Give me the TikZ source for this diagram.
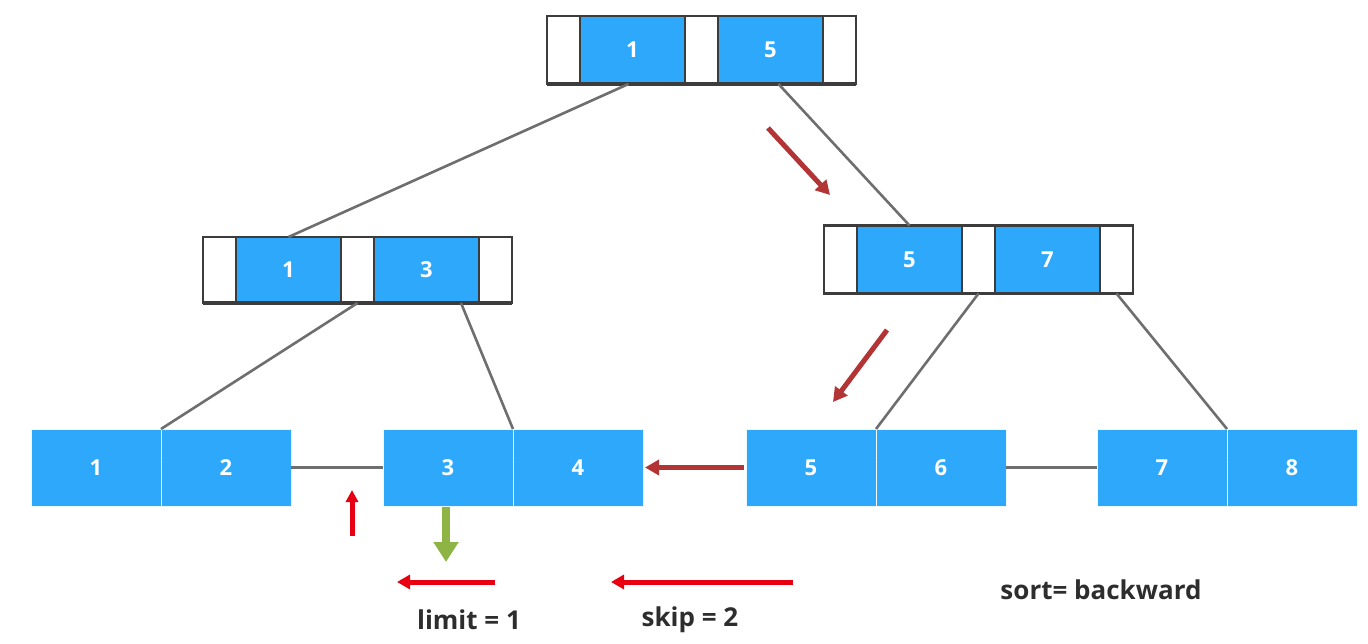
\documentclass[tikz,border=0pt]{standalone}
\usepackage{fontspec}
\setmainfont{Open Sans}
\usetikzlibrary{arrows.meta,calc}
\definecolor{keyblue}{RGB}{45,168,250}
\definecolor{frame}{RGB}{60,60,60}
\definecolor{edgegray}{RGB}{110,110,110}
\definecolor{walkred}{RGB}{178,52,52}
\definecolor{brightred}{RGB}{232,0,18}
\definecolor{pickgreen}{RGB}{141,180,68}
\definecolor{labelgray}{RGB}{45,45,45}
\tikzset{
  cellbase/.style={inner sep=0pt, outer sep=0pt, anchor=west, minimum height=68pt},
  ptrcell/.style={cellbase, draw=frame, line width=2.2pt, fill=white, minimum width=33pt},
  keycell/.style={cellbase, draw=frame, line width=2.2pt, fill=keyblue, minimum width=105pt,
    text=white, font=\bfseries\fontsize{22}{22}\selectfont},
  leafcell/.style={inner sep=0pt, outer sep=0pt, anchor=west, minimum width=130pt, minimum height=77pt,
    draw=cyan!8, line width=0.8pt, fill=keyblue, text=white, font=\bfseries\fontsize{22}{22}\selectfont},
  treeedge/.style={draw=edgegray, line width=2.6pt},
  walkarrow/.style={draw=walkred, line width=5pt, -{Triangle[length=14pt,width=15pt]}},
  redarrow/.style={draw=brightred, line width=5pt, -{Triangle[length=13pt,width=14pt]}},
  greenarrow/.style={draw=pickgreen, line width=8pt, -{Triangle[length=20pt,width=24pt]}},
  label/.style={text=labelgray, font=\bfseries\fontsize{26}{26}\selectfont}
}
\begin{document}
\begin{tikzpicture}[x=1pt,y=-1pt]
\useasboundingbox (0,0) rectangle (1368,644);

% root page
\node[ptrcell] (tp1) at (547,50) {};
\node[keycell] (tk1) at (tp1.east) {1};
\node[ptrcell] (tp2) at (tk1.east) {};
\node[keycell] (tk5) at (tp2.east) {5};
\node[ptrcell] (tp3) at (tk5.east) {};
\draw[frame, line width=3.5pt] (tp1.south west) -- (tp3.south east);

% left inner page
\node[ptrcell, minimum height=66pt] (lp1) at (203,270) {};
\node[keycell, minimum height=66pt] (lk1) at (lp1.east) {1};
\node[ptrcell, minimum height=66pt] (lp2) at (lk1.east) {};
\node[keycell, minimum height=66pt] (lk3) at (lp2.east) {3};
\node[ptrcell, minimum height=66pt] (lp3) at (lk3.east) {};
\draw[frame, line width=3.5pt] (lp1.south west) -- (lp3.south east);

% right inner page
\node[ptrcell] (rp1) at (824,259.5) {};
\node[keycell] (rk5) at (rp1.east) {5};
\node[ptrcell] (rp2) at (rk5.east) {};
\node[keycell] (rk7) at (rp2.east) {7};
\node[ptrcell] (rp3) at (rk7.east) {};
\draw[frame, line width=3.5pt] (rp1.south west) -- (rp3.south east);

% leaf pages
\node[leafcell] (a1) at (31,467.5) {1};
\node[leafcell] (a2) at (a1.east) {2};
\node[leafcell] (b1) at (383,467.5) {3};
\node[leafcell] (b2) at (b1.east) {4};
\node[leafcell] (c1) at (746,467.5) {5};
\node[leafcell] (c2) at (c1.east) {6};
\node[leafcell] (d1) at (1097,467.5) {7};
\node[leafcell] (d2) at (d1.east) {8};
\foreach \l in {a1,b1,c1,d1}
  \draw[white, line width=1pt, dash pattern=on 2pt off 1.5pt] (\l.north east) -- (\l.south east);

% tree edges and leaf links
\draw[treeedge] ([xshift=-4pt]tk1.south) -- (lk1.north);
\draw[treeedge] ([xshift=8pt]tk5.south) -- (rk5.north);
\draw[treeedge] (lp2.south) -- (a1.north east);
\draw[treeedge] ([xshift=-18pt]lk3.south east) -- (b1.north east);
\draw[treeedge] (rp2.south) -- (c1.north east);
\draw[treeedge] (rp3.south) -- (d1.north east);
\draw[treeedge] (a2.east) -- (b1.west);
\draw[treeedge] (c2.east) -- (d1.west);

% backward scan path
\coordinate (w1s) at (768,128);
\coordinate (w1e) at (830,195);
\coordinate (w2s) at (887,330);
\coordinate (w2e) at (833,402);
\draw[walkarrow] (w1s) -- (w1e);
\draw[walkarrow] (w2s) -- (w2e);
\draw[walkarrow] ([xshift=-2pt]c1.west) -- ([xshift=2pt]b2.east);

% cursor markers
\coordinate (upbase) at (352,536);
\coordinate (uptip) at (352,490);
\draw[draw=brightred, line width=5pt, -{Triangle[length=12pt,width=12pt]}] (upbase) -- (uptip);
\coordinate (pickend) at (446,562);
\draw[greenarrow] (446,507) -- (pickend);
\coordinate (lims) at (495,582);
\coordinate (lime) at (397,582);
\draw[redarrow] (lims) -- (lime);
\coordinate (skps) at (793,582);
\coordinate (skpe) at (611,582);
\draw[redarrow] (skps) -- (skpe);

% labels
\node[label] (limit) at (469,620) {limit = 1};
\node[label] (skip) at (690,620) {skip = 2};
\node[label] (sort) at (1101,590) {sort= backward};
\end{tikzpicture}
\end{document}
